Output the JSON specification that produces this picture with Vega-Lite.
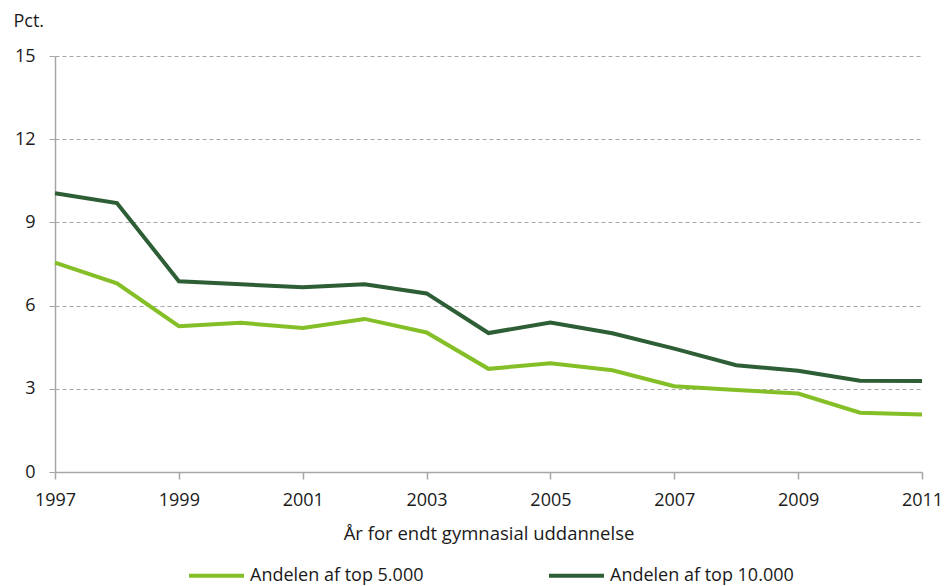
{
  "$schema": "https://vega.github.io/schema/vega-lite/v6.json",
  "width": 867,
  "height": 416,
  "autosize": {"type": "none"},
  "padding": {"left": 55, "top": 56, "right": 26, "bottom": 114},
  "background": "white",
  "config": {
    "font": "Open Sans",
    "view": {"stroke": null}
  },
  "data": {
    "values": [
      {"year": 1997, "series": "Andelen af top 5.000", "value": 7.55},
      {"year": 1998, "series": "Andelen af top 5.000", "value": 6.80},
      {"year": 1999, "series": "Andelen af top 5.000", "value": 5.26},
      {"year": 2000, "series": "Andelen af top 5.000", "value": 5.38},
      {"year": 2001, "series": "Andelen af top 5.000", "value": 5.19},
      {"year": 2002, "series": "Andelen af top 5.000", "value": 5.52},
      {"year": 2003, "series": "Andelen af top 5.000", "value": 5.03},
      {"year": 2004, "series": "Andelen af top 5.000", "value": 3.72},
      {"year": 2005, "series": "Andelen af top 5.000", "value": 3.92},
      {"year": 2006, "series": "Andelen af top 5.000", "value": 3.67},
      {"year": 2007, "series": "Andelen af top 5.000", "value": 3.09},
      {"year": 2008, "series": "Andelen af top 5.000", "value": 2.96},
      {"year": 2009, "series": "Andelen af top 5.000", "value": 2.83},
      {"year": 2010, "series": "Andelen af top 5.000", "value": 2.14},
      {"year": 2011, "series": "Andelen af top 5.000", "value": 2.07},
      {"year": 1997, "series": "Andelen af top 10.000", "value": 10.05},
      {"year": 1998, "series": "Andelen af top 10.000", "value": 9.70},
      {"year": 1999, "series": "Andelen af top 10.000", "value": 6.88},
      {"year": 2000, "series": "Andelen af top 10.000", "value": 6.77},
      {"year": 2001, "series": "Andelen af top 10.000", "value": 6.66},
      {"year": 2002, "series": "Andelen af top 10.000", "value": 6.77},
      {"year": 2003, "series": "Andelen af top 10.000", "value": 6.44},
      {"year": 2004, "series": "Andelen af top 10.000", "value": 5.01},
      {"year": 2005, "series": "Andelen af top 10.000", "value": 5.39},
      {"year": 2006, "series": "Andelen af top 10.000", "value": 5.00},
      {"year": 2007, "series": "Andelen af top 10.000", "value": 4.45},
      {"year": 2008, "series": "Andelen af top 10.000", "value": 3.85},
      {"year": 2009, "series": "Andelen af top 10.000", "value": 3.65},
      {"year": 2010, "series": "Andelen af top 10.000", "value": 3.29},
      {"year": 2011, "series": "Andelen af top 10.000", "value": 3.28}
    ]
  },
  "mark": {"type": "line", "strokeWidth": 4, "strokeJoin": "miter"},
  "encoding": {
    "x": {
      "field": "year",
      "type": "quantitative",
      "scale": {"domain": [1997, 2011], "nice": false, "zero": false},
      "axis": {
        "title": "År for endt gymnasial uddannelse",
        "titleFont": "Open Sans",
        "titleFontSize": 18.5,
        "titleFontWeight": "normal",
        "titleColor": "#1a1a1a",
        "titleY": 67,
        "titleBaseline": "alphabetic",
        "values": [1997, 1999, 2001, 2003, 2005, 2007, 2009, 2011],
        "format": "d",
        "labelFont": "Open Sans",
        "labelFontSize": 18,
        "labelColor": "#1a1a1a",
        "labelBaseline": "alphabetic",
        "labelPadding": 26,
        "labelFlush": false,
        "labelOverlap": false,
        "grid": false,
        "domainColor": "#a6a6a6",
        "domainWidth": 1.5,
        "tickColor": "#a6a6a6",
        "tickWidth": 1.5,
        "tickSize": 7
      }
    },
    "y": {
      "field": "value",
      "type": "quantitative",
      "scale": {"domain": [0, 15], "nice": false},
      "axis": {
        "title": "Pct.",
        "titleAngle": 0,
        "titleFont": "Open Sans",
        "titleFontSize": 18,
        "titleFontWeight": "normal",
        "titleColor": "#1a1a1a",
        "titleAlign": "left",
        "titleBaseline": "alphabetic",
        "titleX": -42,
        "titleY": -30,
        "values": [0, 3, 6, 9, 12, 15],
        "labelFont": "Open Sans",
        "labelFontSize": 18,
        "labelColor": "#1a1a1a",
        "labelPadding": 14,
        "grid": true,
        "gridColor": "#a6a6a6",
        "gridDash": [4, 3],
        "gridWidth": 1,
        "domainColor": "#a6a6a6",
        "domainWidth": 1.5,
        "tickColor": "#a6a6a6",
        "tickWidth": 1,
        "tickSize": 6
      }
    },
    "color": {
      "field": "series",
      "type": "nominal",
      "sort": ["Andelen af top 5.000", "Andelen af top 10.000"],
      "scale": {
        "domain": ["Andelen af top 5.000", "Andelen af top 10.000"],
        "range": ["#85bf27", "#2d5e35"]
      },
      "legend": {
        "title": null,
        "orient": "none",
        "legendX": 132,
        "legendY": 490,
        "direction": "horizontal",
        "symbolType": "stroke",
        "symbolSize": 3025,
        "symbolStrokeWidth": 4,
        "labelFont": "Open Sans",
        "labelFontSize": 18,
        "labelColor": "#1a1a1a",
        "labelOffset": 4,
        "columnPadding": 117,
        "labelLimit": 400
      }
    }
  }
}
